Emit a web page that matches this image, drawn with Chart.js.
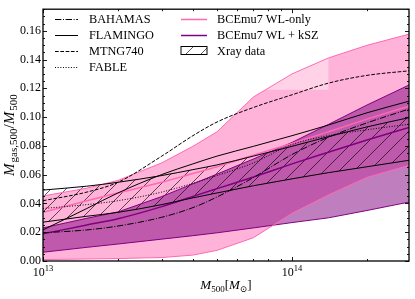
<!doctype html>
<html lang="en">
<head>
<meta charset="utf-8">
<title>Gas fraction vs M500</title>
<style>
  html,body{margin:0;padding:0;background:#fff;overflow:hidden;}
</style>
</head>
<body>
<canvas id="chart0" width="415" height="299"></canvas>
<script src="https://cdn.jsdelivr.net/npm/chart.js@4.4.1/dist/chart.umd.min.js"></script>
<script>
const mass = [1e13, 1.5e13, 2e13, 3e13, 4e13, 5e13, 7e13, 1e14, 1.4e14, 2e14, 3e14];

// simulations
const bahamas  = [0.0196, 0.0216, 0.0243, 0.0304, 0.0371, 0.0445, 0.0580, 0.0740, 0.0860, 0.0960, 0.1060];
const flamingo = [0.0216, 0.0365, 0.0473, 0.0601, 0.0675, 0.0729, 0.0797, 0.0871, 0.0945, 0.1030, 0.1114];
const mtng740  = [0.0419, 0.0479, 0.0547, 0.0729, 0.0871, 0.0966, 0.1067, 0.1155, 0.1236, 0.1290, 0.1323];
const fable    = [0.0365, 0.0392, 0.0419, 0.0479, 0.0540, 0.0594, 0.0682, 0.0810, 0.0871, 0.0912, 0.0952];

// BCEmu7 WL-only band + mean
const wlLow  = [0.0010, 0.0014, 0.0017, 0.0024, 0.0041, 0.0074, 0.0162, 0.0331, 0.0459, 0.0581, 0.0668];
const wlHigh = [0.0452, 0.0506, 0.0560, 0.0682, 0.0797, 0.0898, 0.1140, 0.1300, 0.1411, 0.1499, 0.1580];
const wlMean = [0.0338, 0.0419, 0.0473, 0.0547, 0.0608, 0.0655, 0.0736, 0.0817, 0.0898, 0.0986, 0.1080];
// darker (overlapping) part of the WL-only band
const wlDarkMass = [1e13, 1.5e13, 2e13, 3e13, 4e13, 5e13, 7e13, 7.8e13, 1.4e14, 1.4e14, 2e14, 3e14];
const wlDarkTop  = [0.0452, 0.0506, 0.0560, 0.0682, 0.0797, 0.0898, 0.1140, 0.1190, 0.1190, 0.1411, 0.1499, 0.1580];

// BCEmu7 WL + kSZ band + mean
const kszLow  = [0.0061, 0.0095, 0.0118, 0.0152, 0.0176, 0.0196, 0.0230, 0.0267, 0.0300, 0.0351, 0.0412];
const kszHigh = [0.0230, 0.0297, 0.0341, 0.0448, 0.0536, 0.0604, 0.0709, 0.0824, 0.0949, 0.1084, 0.1229];
const kszMean = [0.0189, 0.0250, 0.0294, 0.0378, 0.0449, 0.0503, 0.0584, 0.0675, 0.0756, 0.0841, 0.0932];

// X-ray data band
const xrayLow  = [0.0270, 0.0311, 0.0338, 0.0392, 0.0439, 0.0473, 0.0523, 0.0571, 0.0614, 0.0655, 0.0702];
const xrayHigh = [0.0493, 0.0520, 0.0547, 0.0594, 0.0635, 0.0668, 0.0729, 0.0797, 0.0864, 0.0932, 0.0999];

const yTicks = [0, 0.02, 0.04, 0.06, 0.08, 0.10, 0.12, 0.14, 0.16];
const xDecades = [13, 14];
const legendCols = [['BAHAMAS', 'FLAMINGO', 'MTNG740', 'FABLE'], ['BCEmu7 WL-only', 'BCEmu7 WL + kSZ', 'Xray data']];

const SERIF = '"Liberation Serif", "DejaVu Serif", serif';
const PINK = '#ff69b4', PURPLE = '#800080', NONE = 'rgba(0,0,0,0)';

const canvas = document.getElementById('chart0');
const ctx0 = canvas.getContext('2d');

function pts(xs, ys) { return xs.map(function (x, i) { return {x: x, y: ys[i]}; }); }

function makeHatch() {
  const s = 15, c = document.createElement('canvas');
  c.width = s; c.height = s;
  const g = c.getContext('2d');
  g.strokeStyle = 'rgba(0,0,0,0.8)';
  g.lineWidth = 0.8;
  g.beginPath();
  g.moveTo(0, s); g.lineTo(s, 0);
  g.moveTo(-2, 2); g.lineTo(2, -2);
  g.moveTo(s - 2, s + 2); g.lineTo(s + 2, s - 2);
  g.stroke();
  return ctx0.createPattern(c, 'repeat');
}
const hatch = makeHatch();

function line(label, data, color, width, dash, order, smooth) {
  return {label: label, data: data, borderColor: color, borderWidth: width, borderDash: dash || [],
          fill: false, order: order, tension: 0, cubicInterpolationMode: smooth ? 'monotone' : 'default'};
}
function band(label, data, target, bg, order) {
  return {label: label, data: data, borderColor: NONE, borderWidth: 0, fill: target,
          backgroundColor: bg, order: order, tension: 0};
}

const datasets = [
  line('wl-lo', pts(mass, wlLow), PINK, 1, null, 5),                            // 0
  line('wl-hi', pts(mass, wlHigh), PINK, 1, null, 5),                           // 1
  band('wl-fill', pts(mass, wlHigh), 0, 'rgba(255,105,180,0.3)', 30),           // 2
  band('wl-fill2', pts(wlDarkMass, wlDarkTop), 0, 'rgba(255,105,180,0.3)', 29), // 3
  line('BCEmu7 WL-only', pts(mass, wlMean), PINK, 1.5, null, 5, true),          // 4
  line('ksz-lo', pts(mass, kszLow), PURPLE, 1, null, 5),                        // 5
  line('ksz-hi', pts(mass, kszHigh), PURPLE, 1, null, 5),                       // 6
  band('ksz-fill', pts(mass, kszHigh), 5, 'rgba(128,0,128,0.5)', 28),           // 7
  line('BCEmu7 WL + kSZ', pts(mass, kszMean), PURPLE, 1.5, null, 5, true),      // 8
  line('xray-lo', pts(mass, xrayLow), '#000', 1, null, 4, true),                // 9
  line('xray-hi', pts(mass, xrayHigh), '#000', 1, null, 4, true),               // 10
  band('Xray data', pts(mass, xrayHigh), 9, hatch, 27),                         // 11
  line('BAHAMAS', pts(mass, bahamas), '#000', 1, [6.4, 1.6, 1, 1.6], 1, true),
  line('FLAMINGO', pts(mass, flamingo), '#000', 1, null, 1, true),
  line('MTNG740', pts(mass, mtng740), '#000', 1, [3.7, 1.6], 1, true),
  line('FABLE', pts(mass, fable), '#000', 1, [1, 1.65], 1, true)
];
datasets.forEach(function (d) { d.pointRadius = 0; d.pointHoverRadius = 0; });

function rich(ctx, parts, cx, base) {
  let w = 0;
  parts.forEach(function (p) { ctx.font = p.f; p.w = ctx.measureText(p.t).width + (p.sp || 0); w += p.w; });
  let x = cx - w / 2;
  ctx.textAlign = 'left';
  ctx.textBaseline = 'alphabetic';
  parts.forEach(function (p) { ctx.font = p.f; ctx.fillText(p.t, x, base + (p.dy || 0)); x += p.w; });
}

const BIG = '13px ' + SERIF, BIGI = 'italic 13px ' + SERIF, SUB = '9px ' + SERIF;
const YB = '15px ' + SERIF, YBI = 'italic 15px ' + SERIF, YS = '11px ' + SERIF;

const decor = {
  id: 'decor',
  afterDraw: function (chart) {
    const ctx = chart.ctx, a = chart.chartArea, x = chart.scales.x, y = chart.scales.y;
    ctx.save();
    ctx.strokeStyle = '#000';
    ctx.fillStyle = '#000';
    // inward ticks on all sides
    ctx.lineWidth = 0.9;
    ctx.beginPath();
    xDecades.forEach(function (d) {
      for (let k = 1; k <= 9; k++) {
        const v = k * Math.pow(10, d);
        if (v < x.min || v > x.max) continue;
        const px = Math.round(x.getPixelForValue(v)) + 0.5;
        const len = k === 1 ? 4 : 2;
        ctx.moveTo(px, a.bottom); ctx.lineTo(px, a.bottom - len);
        ctx.moveTo(px, a.top); ctx.lineTo(px, a.top + len);
      }
    });
    for (let i = 0; i * 0.005 <= y.max + 1e-9; i++) {
      const py = Math.round(y.getPixelForValue(i * 0.005)) + 0.5;
      const len = i % 4 === 0 ? 4 : 2;
      ctx.moveTo(a.left, py); ctx.lineTo(a.left + len, py);
      ctx.moveTo(a.right, py); ctx.lineTo(a.right - len, py);
    }
    ctx.stroke();
    ctx.lineWidth = 1.3;
    ctx.strokeRect(a.left, a.top, a.right - a.left, a.bottom - a.top);

    // x tick labels 10^13, 10^14
    xDecades.forEach(function (d) {
      const px = x.getPixelForValue(Math.pow(10, d));
      rich(ctx, [{t: '10', f: '12px ' + SERIF}, {t: String(d), f: '8.5px ' + SERIF, dy: -5}], px, 276);
    });

    // axis titles
    rich(ctx, [{t: 'M', f: BIGI}, {t: '500', f: SUB, dy: 3}, {t: '[', f: BIG}, {t: 'M', f: BIGI},
               {t: '\u2299', f: SUB, dy: 3}, {t: ']', f: BIG}], (a.left + a.right) / 2, 289);
    ctx.save();
    ctx.translate(14, (a.top + a.bottom) / 2);
    ctx.rotate(-Math.PI / 2);
    rich(ctx, [{t: 'M', f: YBI, sp: 1}, {t: 'gas,500', f: YS, dy: 3}, {t: '/', f: YB}, {t: 'M', f: YBI, sp: 1},
               {t: '500', f: YS, dy: 3}], 0, 0);
    ctx.restore();

    // legend (two columns, no frame)
    const cols = [{x0: 55, x1: 78, tx: 89}, {x0: 181, x1: 207, tx: 217}];
    ctx.font = '12.3px ' + SERIF;
    ctx.textBaseline = 'middle';
    legendCols.forEach(function (names, c) {
      names.forEach(function (name, r) {
        const yy = 18.5 + r * 16;
        const ds = chart.data.datasets.find(function (d) { return d.label === name; });
        if (name === 'Xray data') {
          ctx.fillStyle = hatch;
          ctx.fillRect(cols[c].x0, yy - 4, cols[c].x1 - cols[c].x0, 8);
          ctx.lineWidth = 1;
          ctx.strokeStyle = '#000';
          ctx.strokeRect(cols[c].x0, yy - 4, cols[c].x1 - cols[c].x0, 8);
        } else {
          ctx.beginPath();
          ctx.setLineDash(ds.borderDash || []);
          ctx.strokeStyle = ds.borderColor;
          ctx.lineWidth = ds.borderWidth;
          ctx.moveTo(cols[c].x0, Math.round(yy) + 0.5);
          ctx.lineTo(cols[c].x1, Math.round(yy) + 0.5);
          ctx.stroke();
          ctx.setLineDash([]);
        }
        ctx.fillStyle = '#000';
        ctx.textAlign = 'left';
        ctx.fillText(name, cols[c].tx, yy + 1);
      });
    });
    ctx.restore();
  }
};

new Chart(ctx0, {
  type: 'line',
  data: {datasets: datasets},
  plugins: [decor],
  options: {
    responsive: false,
    animation: false,
    devicePixelRatio: 1,
    layout: {padding: {top: 4, right: 6, left: 0, bottom: 0}},
    plugins: {legend: {display: false}, tooltip: {enabled: false}, filler: {propagate: false}},
    scales: {
      x: {
        type: 'logarithmic', min: 1e13, max: 2.95e14,
        ticks: {display: false}, grid: {display: false, drawTicks: false}, border: {display: false},
        afterFit: function (s) { s.height = 38; }
      },
      y: {
        type: 'linear', min: 0, max: 0.175,
        afterBuildTicks: function (s) { s.ticks = yTicks.map(function (v) { return {value: v}; }); },
        ticks: {padding: 2, color: '#000', font: {family: SERIF, size: 12},
                callback: function (v) { return Number(v).toFixed(2); }},
        grid: {display: false, drawTicks: false}, border: {display: false},
        afterFit: function (s) { s.width = 43; }
      }
    }
  }
});
</script>
</body>
</html>
